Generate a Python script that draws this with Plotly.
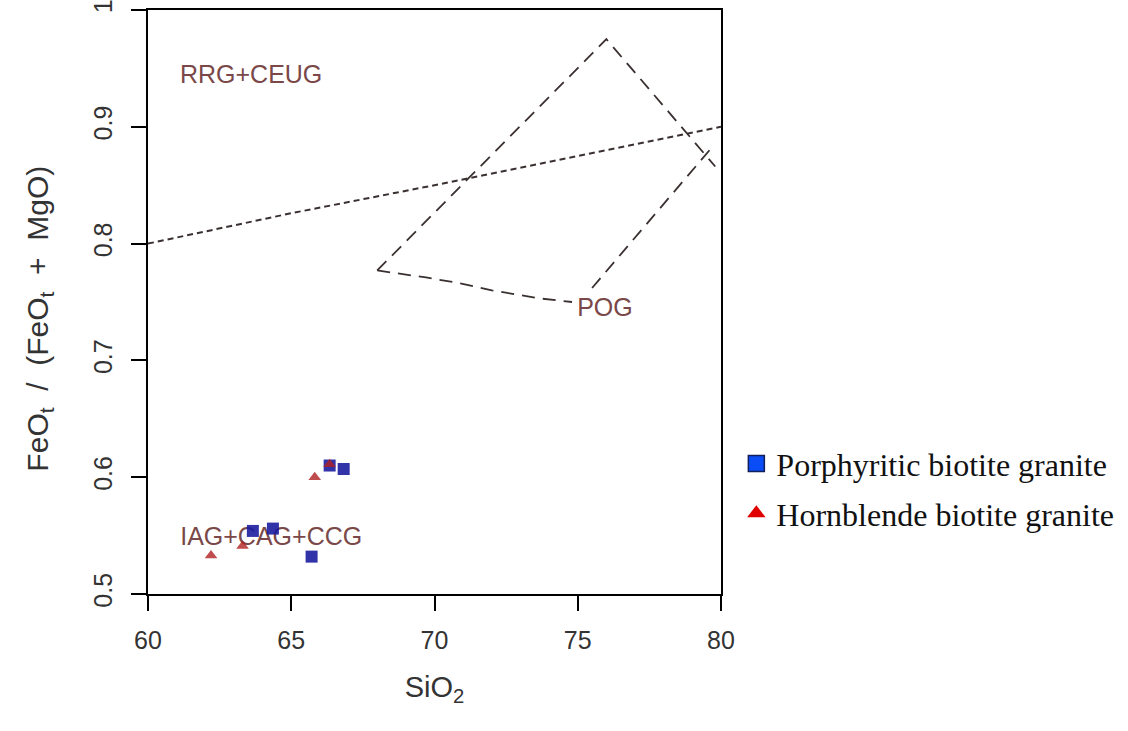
import plotly.graph_objects as go

# Data points
pbg_x = [63.66, 64.36, 65.71, 66.34, 66.83]
pbg_y = [0.554, 0.556, 0.532, 0.610, 0.607]
hbg_x = [62.2, 63.3, 65.82, 66.34]
hbg_y = [0.533, 0.541, 0.600, 0.611]

# Discrimination boundaries
line1_x = [60, 65, 70, 75, 80]
line1_y = [0.800, 0.826, 0.850, 0.875, 0.900]
pog_upper_x = [68.0, 76.0, 79.8]
pog_upper_y = [0.777, 0.975, 0.866]
pog_right_x = [75.5, 79.6]
pog_right_y = [0.762, 0.880]
pog_bottom_x = [68.0, 69.7, 70.9, 72.0, 73.7, 74.8]
pog_bottom_y = [0.777, 0.771, 0.766, 0.760, 0.753, 0.750]

labels = ["RRG+CEUG", "IAG+CAG+CCG", "POG"]
label_x = [63.6, 64.3, 75.95]
label_y = [0.943, 0.547, 0.743]

FONT = "Liberation Sans, Arial"
NB = "\u00a0"

fig = go.Figure()
fig.add_trace(go.Scatter(x=line1_x, y=line1_y, mode="lines", showlegend=False, hoverinfo="skip",
                         line=dict(color="#3a3030", width=2, dash="6px,4px")))
for xs, ys in [(pog_upper_x, pog_upper_y), (pog_right_x, pog_right_y), (pog_bottom_x, pog_bottom_y)]:
    fig.add_trace(go.Scatter(x=xs, y=ys, mode="lines", showlegend=False, hoverinfo="skip",
                             line=dict(color="#3a3030", width=1.8, dash="13px,8px")))

fig.add_trace(go.Scatter(x=label_x, y=label_y, mode="text", text=labels, showlegend=False,
                         textfont=dict(family=FONT, size=25, color="#7a4848")))

fig.add_trace(go.Scatter(x=pbg_x, y=pbg_y, mode="markers", showlegend=False,
                         marker=dict(symbol="square", size=12, color="#1c1ca0", opacity=0.9)))
fig.add_trace(go.Scatter(x=hbg_x, y=hbg_y, mode="markers", showlegend=False,
                         marker=dict(symbol="triangle-up", size=11, color="#b02020", opacity=0.8)))

# legend entries
fig.add_trace(go.Scatter(x=[None], y=[None], mode="markers", name="Porphyritic biotite granite",
                         legendgroup="a",
                         marker=dict(symbol="square", size=18, color="#0a4cf5", line=dict(color="#10205a", width=1.5))))
fig.add_trace(go.Scatter(x=[None], y=[None], mode="markers", name="Hornblende biotite granite",
                         legendgroup="b",
                         marker=dict(symbol="triangle-up", size=19, color="#e00000")))

axis_common = dict(showline=True, linecolor="black", linewidth=2, mirror=True,
                   ticks="outside", ticklen=15, tickwidth=2, tickcolor="black",
                   showgrid=False, zeroline=False, automargin=False,
                   ticklabeloverflow="allow",
                   tickfont=dict(family=FONT, size=25, color="#333333"))

ytitle = ("FeO<sub>t</sub>" + NB * 2 + "/" + NB * 2 + "(FeO<sub>t</sub>" + NB + " + " + NB
          + "MgO)" + NB * 4 + "\u200b")

fig.update_layout(
    width=1128, height=731,
    margin=dict(l=148, r=406, t=10, b=137),
    plot_bgcolor="white", paper_bgcolor="white",
    xaxis=dict(range=[60, 80], tickvals=[60, 65, 70, 75, 80], ticklabelstandoff=8,
               title=dict(text="SiO<sub>2</sub>", standoff=24,
                          font=dict(family=FONT, size=29, color="#333333")),
               **axis_common),
    yaxis=dict(range=[0.5, 1.0], tickvals=[0.5, 0.6, 0.7, 0.8, 0.9, 1.0],
               ticktext=["0.5", "0.6", "0.7", "0.8", "0.9", "1"], tickangle=-90,
               ticklabelstandoff=9,
               title=dict(text=ytitle, standoff=32,
                          font=dict(family=FONT, size=30, color="#333333")),
               **axis_common),
    legend=dict(x=1.025, y=0.27, xanchor="left", yanchor="top", tracegroupgap=5,
                font=dict(family="Liberation Serif, Times New Roman", size=32, color="#111111"),
                bgcolor="rgba(0,0,0,0)"),
)

fig.write_html("out.html", config={"displayModeBar": False},
               post_script="document.body.style.margin='0px';")
